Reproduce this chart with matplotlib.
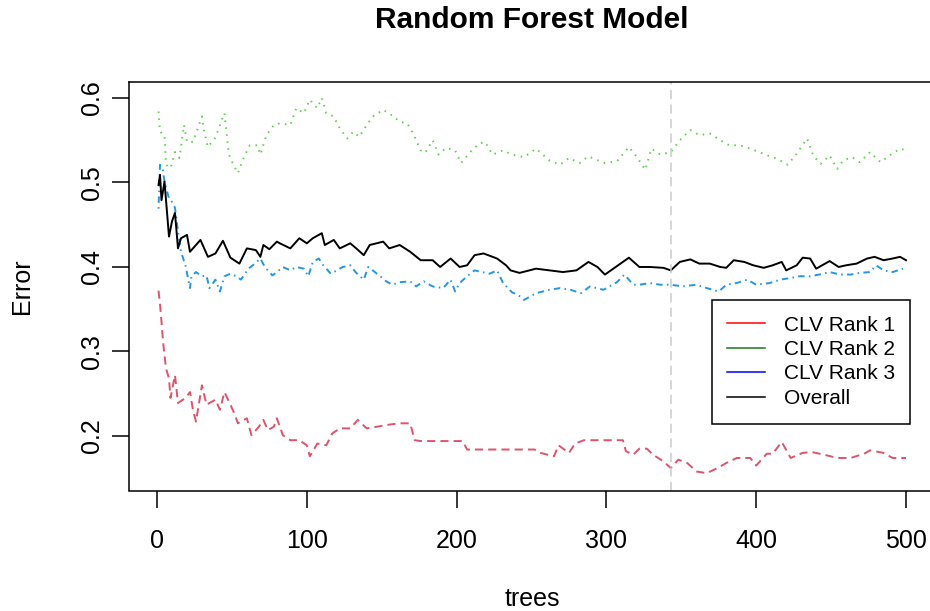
import matplotlib
matplotlib.use("Agg")
import matplotlib.pyplot as plt
from matplotlib.lines import Line2D

plt.rcParams['font.family'] = ['Liberation Sans', 'DejaVu Sans']

# ---- data (trees, error) ----
overall_trees = [1, 2, 3, 5, 8, 10, 12, 14, 16, 20, 22, 29, 34, 39, 44, 49, 55, 60, 66, 69, 71, 75,
                 80, 82, 89, 95, 100, 104, 110, 112, 118, 122, 129, 133, 138, 142, 151, 155, 162,
                 169, 176, 184, 189, 196, 202, 207, 212, 218, 227, 233, 236, 242, 253, 262, 271,
                 280, 288, 294, 299, 307, 315, 322, 329, 338, 343, 349, 356, 362, 369, 376, 380,
                 385, 392, 398, 405, 411, 417, 420, 427, 431, 436, 440, 444, 449, 455, 460, 467,
                 474, 479, 485, 491, 496, 500]
overall_err = [0.497, 0.509, 0.479, 0.501, 0.436, 0.454, 0.464, 0.422, 0.434, 0.438, 0.418, 0.432,
               0.412, 0.416, 0.431, 0.411, 0.404, 0.422, 0.420, 0.412, 0.426, 0.421, 0.430, 0.428,
               0.422, 0.434, 0.428, 0.434, 0.440, 0.426, 0.432, 0.422, 0.428, 0.422, 0.414, 0.426,
               0.430, 0.422, 0.426, 0.418, 0.408, 0.408, 0.400, 0.410, 0.400, 0.402, 0.414, 0.416,
               0.410, 0.402, 0.396, 0.393, 0.398, 0.396, 0.394, 0.396, 0.406, 0.400, 0.391, 0.401,
               0.411, 0.400, 0.400, 0.399, 0.396, 0.406, 0.409, 0.404, 0.404, 0.400, 0.399, 0.408,
               0.406, 0.402, 0.399, 0.402, 0.406, 0.396, 0.402, 0.411, 0.410, 0.398, 0.402, 0.407,
               0.400, 0.402, 0.404, 0.410, 0.412, 0.408, 0.410, 0.412, 0.408]

rank1_trees = [1, 2, 3, 4, 5, 6, 8, 9, 12, 14, 19, 22, 24, 26, 30, 33, 39, 42, 45, 49, 52, 54, 60,
               63, 68, 71, 74, 78, 80, 84, 89, 95, 100, 102, 107, 113, 117, 122, 129, 134, 140,
               147, 153, 162, 169, 172, 176, 204, 207, 242, 252, 256, 265, 268, 275, 279, 285,
               311, 313, 318, 322, 327, 331, 338, 343, 348, 354, 360, 367, 374, 380, 387, 396,
               400, 407, 411, 417, 423, 431, 437, 445, 454, 463, 472, 476, 485, 491, 500]
rank1_err = [0.372, 0.356, 0.335, 0.312, 0.296, 0.280, 0.268, 0.245, 0.272, 0.239, 0.245, 0.252,
             0.231, 0.217, 0.260, 0.237, 0.243, 0.231, 0.252, 0.237, 0.225, 0.215, 0.221, 0.201,
             0.211, 0.219, 0.207, 0.211, 0.221, 0.201, 0.195, 0.195, 0.189, 0.176, 0.191, 0.189,
             0.203, 0.209, 0.209, 0.219, 0.209, 0.211, 0.213, 0.215, 0.215, 0.195, 0.194, 0.194,
             0.184, 0.184, 0.184, 0.180, 0.176, 0.189, 0.180, 0.191, 0.195, 0.195, 0.182, 0.178,
             0.185, 0.185, 0.178, 0.170, 0.162, 0.172, 0.168, 0.158, 0.156, 0.162, 0.168, 0.174,
             0.174, 0.165, 0.179, 0.179, 0.193, 0.174, 0.180, 0.181, 0.178, 0.174, 0.174, 0.179,
             0.183, 0.180, 0.174, 0.174]

rank2_trees = [1, 2, 5, 6, 9, 12, 15, 18, 20, 24, 30, 31, 34, 39, 42, 45, 48, 51, 54, 58, 62, 67,
               69, 73, 78, 82, 89, 93, 98, 102, 107, 110, 113, 118, 122, 127, 131, 135, 140, 144,
               151, 158, 162, 167, 171, 176, 179, 184, 188, 193, 199, 203, 209, 215, 219, 224,
               231, 237, 245, 253, 262, 269, 275, 282, 288, 293, 299, 307, 315, 320, 326, 330,
               336, 343, 349, 356, 362, 369, 376, 382, 389, 396, 402, 409, 414, 421, 427, 434,
               438, 443, 449, 454, 458, 464, 469, 476, 483, 489, 496, 500]
rank2_err = [0.584, 0.560, 0.556, 0.521, 0.517, 0.536, 0.529, 0.568, 0.548, 0.548, 0.578, 0.564,
             0.542, 0.553, 0.568, 0.582, 0.533, 0.521, 0.511, 0.530, 0.544, 0.544, 0.533, 0.556,
             0.568, 0.570, 0.568, 0.588, 0.582, 0.598, 0.588, 0.600, 0.582, 0.578, 0.564, 0.552,
             0.560, 0.554, 0.568, 0.578, 0.586, 0.578, 0.572, 0.570, 0.558, 0.538, 0.535, 0.550,
             0.533, 0.541, 0.538, 0.523, 0.536, 0.546, 0.548, 0.533, 0.538, 0.533, 0.530, 0.540,
             0.526, 0.521, 0.529, 0.523, 0.531, 0.527, 0.523, 0.525, 0.542, 0.531, 0.515, 0.540,
             0.533, 0.536, 0.550, 0.562, 0.556, 0.558, 0.550, 0.544, 0.544, 0.540, 0.536, 0.531,
             0.528, 0.521, 0.534, 0.552, 0.532, 0.522, 0.532, 0.516, 0.526, 0.530, 0.524, 0.536,
             0.524, 0.532, 0.540, 0.538]

rank3_trees = [1, 2, 4, 5, 8, 10, 12, 14, 16, 19, 22, 23, 26, 30, 33, 35, 39, 42, 45, 49, 53, 56,
               61, 64, 69, 72, 77, 80, 84, 89, 93, 98, 101, 104, 108, 111, 116, 120, 124, 129,
               133, 138, 141, 144, 149, 153, 157, 162, 169, 173, 178, 184, 191, 196, 199, 202,
               207, 212, 217, 222, 227, 231, 237, 241, 245, 253, 262, 269, 276, 283, 289, 298,
               302, 307, 312, 318, 322, 329, 336, 343, 351, 360, 367, 375, 380, 387, 394, 400,
               409, 416, 423, 429, 436, 442, 449, 456, 463, 469, 476, 480, 485, 491, 498]
rank3_err = [0.469, 0.521, 0.514, 0.501, 0.481, 0.477, 0.470, 0.442, 0.418, 0.402, 0.375, 0.389,
             0.394, 0.389, 0.390, 0.375, 0.385, 0.371, 0.389, 0.392, 0.389, 0.385, 0.398, 0.402,
             0.410, 0.400, 0.390, 0.394, 0.400, 0.396, 0.400, 0.398, 0.389, 0.406, 0.410, 0.402,
             0.392, 0.396, 0.400, 0.402, 0.393, 0.385, 0.400, 0.396, 0.389, 0.383, 0.379, 0.382,
             0.383, 0.377, 0.383, 0.377, 0.375, 0.385, 0.371, 0.381, 0.389, 0.396, 0.394, 0.392,
             0.396, 0.381, 0.370, 0.367, 0.361, 0.369, 0.373, 0.375, 0.373, 0.369, 0.377, 0.373,
             0.377, 0.382, 0.391, 0.379, 0.379, 0.381, 0.379, 0.379, 0.377, 0.379, 0.375, 0.371,
             0.379, 0.381, 0.385, 0.379, 0.381, 0.385, 0.387, 0.389, 0.389, 0.391, 0.394, 0.391,
             0.391, 0.393, 0.394, 0.402, 0.396, 0.394, 0.398]

best_trees = 343
legend_labels = ["CLV Rank 1", "CLV Rank 2", "CLV Rank 3", "Overall"]
legend_colors = ["#FF0000", "#1A7A1A", "#0000FF", "#000000"]
x_ticks = [0, 100, 200, 300, 400, 500]
y_ticks = [0.2, 0.3, 0.4, 0.5, 0.6]

W, H = 930, 611
fig = plt.figure(figsize=(W / 100, H / 100), dpi=100)
left, right, top, bottom = 128.5, 936.0, 82.0, 490.5
ax = fig.add_axes([left / W, 1 - bottom / H, (right - left) / W, (bottom - top) / H])

lw = 1.4
ax.plot(rank1_trees, rank1_err, color="#DF536B", lw=lw, ls=(0, (4.2, 2.6)))
ax.plot(rank2_trees, rank2_err, color="#61D04F", lw=lw, ls=(0, (0.8, 2.8)))
ax.plot(rank3_trees, rank3_err, color="#2297E6", lw=lw, ls=(0, (0.8, 2.2, 3.3, 2.2)))
ax.plot(overall_trees, overall_err, color="black", lw=lw)
ax.axvline(best_trees, color="#CCCCCC", lw=1.1, ls=(0, (6, 3.5)))

ax.set_xlim(-19.03, 520.0)
ax.set_ylim(0.1355, 0.6189)
ax.set_xticks(x_ticks)
ax.set_xticklabels([str(v) for v in x_ticks])
ax.set_yticks(y_ticks)
ax.set_yticklabels([f"{v:.1f}" for v in y_ticks], rotation=90, va="center")

for s in ax.spines.values():
    s.set_linewidth(1.1)
    s.set_color("black")
ax.tick_params(axis="both", length=12, width=1.1, labelsize=18, color="black")
ax.tick_params(axis="x", pad=16)
ax.tick_params(axis="y", pad=6)

handles = [Line2D([0], [0], color=c, lw=1.1) for c in legend_colors]
leg = ax.legend(handles, legend_labels, loc="upper left",
                bbox_to_anchor=(711.7 / W, 1 - 300 / H), bbox_transform=fig.transFigure,
                fontsize=15, frameon=True, fancybox=False, framealpha=1,
                edgecolor="black", borderpad=0.75, handlelength=1.8, handletextpad=0.9,
                labelspacing=0.26, borderaxespad=0)
leg.get_frame().set_linewidth(1.1)

fig.text(532 / W, 1 - 20 / H, "Random Forest Model", ha="center", va="center",
         fontsize=21.5, fontweight="bold")
fig.text(532 / W, 1 - 599 / H, "trees", ha="center", va="center", fontsize=18)
fig.text(22 / W, 1 - 286 / H, "Error", ha="center", va="center", fontsize=18, rotation=90)

fig.savefig("out.png", dpi=100)
